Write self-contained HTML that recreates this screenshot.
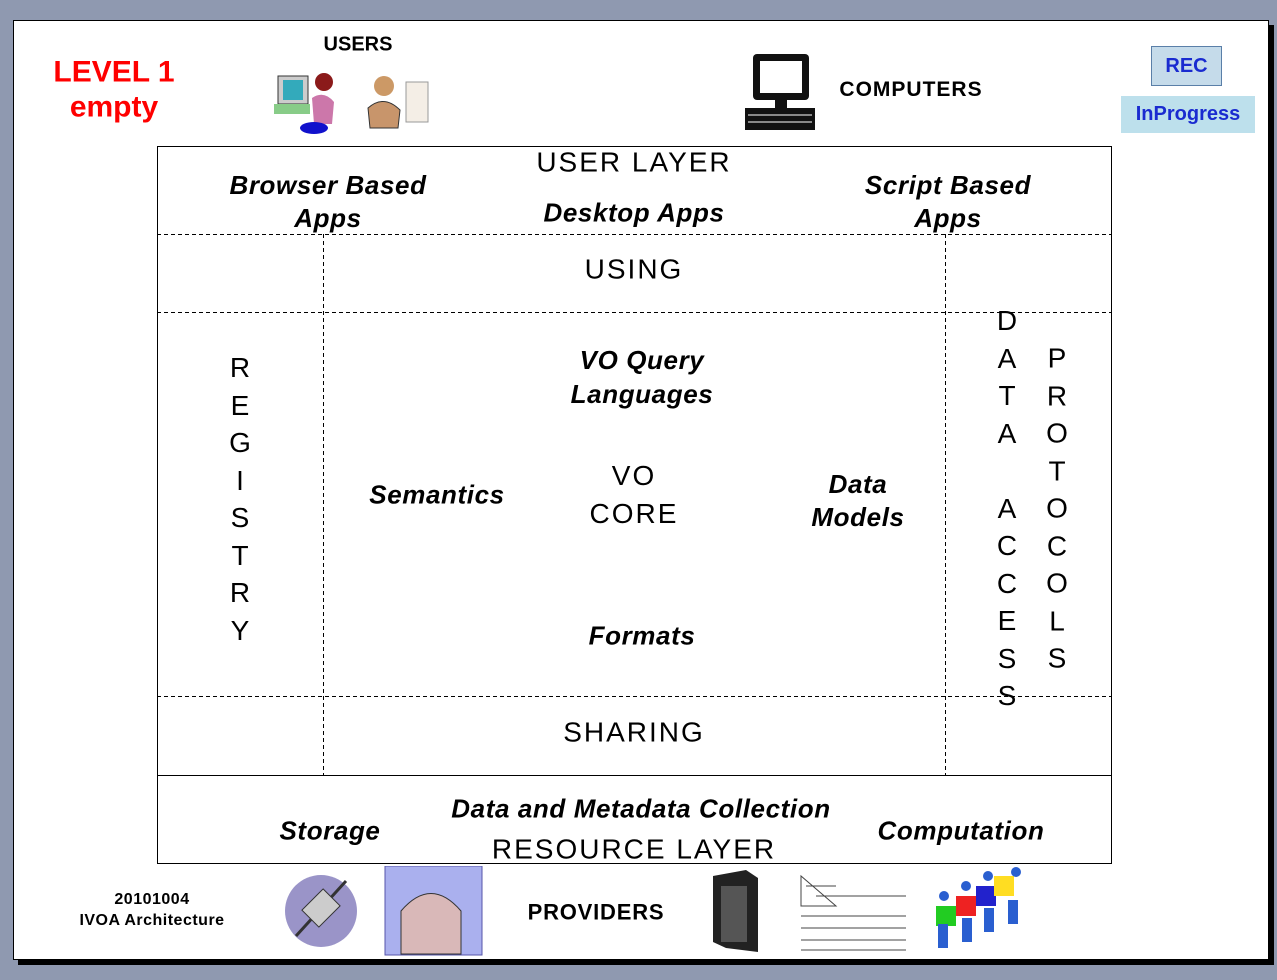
<!DOCTYPE html>
<html><head><meta charset="utf-8"><style>
body{margin:0;width:1277px;height:980px;background:#8f99b0;position:relative;overflow:hidden;font-family:"Liberation Sans",sans-serif}
.slide{position:absolute;left:13px;top:20px;width:1254px;height:938px;background:#fff;border:1px solid #000;box-shadow:5px 5px 0 #000}
.t{position:absolute;transform:translate(-50%,-50%);white-space:nowrap;text-align:center;line-height:1.25}
.bi{font-weight:bold;font-style:italic;font-size:26px;letter-spacing:0.6px;line-height:33px}
.n{font-size:28px;letter-spacing:2px}
.l{position:absolute}
</style></head><body>
<div class="slide"></div>
<div class="t" style="left:114px;top:90px;color:#f00;font-weight:bold;font-size:30px;line-height:1.15">LEVEL 1<br>empty</div>
<div class="t" style="left:358px;top:45px;font-weight:bold;font-size:20px">USERS</div>
<div class="t" style="left:911px;top:90px;font-weight:bold;font-size:21px;letter-spacing:1px">COMPUTERS</div>
<div class="l" style="left:1151px;top:46px;width:69px;height:38px;background:#c5dbea;border:1px solid #5a7fa8;color:#1a2bd0;font-weight:bold;font-size:20px;text-align:center;line-height:38px">REC</div>
<div class="l" style="left:1121px;top:96px;width:134px;height:37px;background:#bde0ec;color:#1a2bd0;font-weight:bold;font-size:20px;text-align:center;line-height:37px">InProgress</div>
<svg class="l" style="left:274px;top:68px" width="160" height="68">
<rect x="4" y="8" width="30" height="28" fill="#ccc" stroke="#333"/><rect x="9" y="12" width="20" height="20" fill="#3ab"/>
<rect x="0" y="36" width="36" height="10" fill="#8c8"/><circle cx="50" cy="14" r="9" fill="#8b1a1a"/>
<path d="M38 30 Q50 22 60 34 L58 56 L40 56 Z" fill="#c7a"/><ellipse cx="40" cy="60" rx="14" ry="6" fill="#11c"/>
<circle cx="110" cy="18" r="10" fill="#c96"/><path d="M94 40 Q110 26 126 42 L124 60 L96 60 Z" fill="#c8956b" stroke="#333"/>
<rect x="132" y="14" width="22" height="40" fill="#f4eee6" stroke="#999"/>
</svg>
<svg class="l" style="left:745px;top:52px" width="72" height="80">
<rect x="8" y="2" width="56" height="46" rx="4" fill="#111"/><rect x="15" y="9" width="42" height="32" fill="#fff"/>
<rect x="30" y="48" width="12" height="8" fill="#111"/><rect x="0" y="56" width="70" height="22" fill="#111"/>
<g stroke="#fff" stroke-width="1"><line x1="3" y1="63" x2="67" y2="63"/><line x1="3" y1="70" x2="67" y2="70"/></g>
</svg>
<svg class="l" style="left:0;top:0" width="1277" height="980">
<rect x="157.5" y="146.5" width="954" height="717" fill="none" stroke="#000" stroke-width="1"/>
<g stroke="#000" stroke-dasharray="4,3" stroke-width="1">
<line x1="157" y1="234.5" x2="1111" y2="234.5"/>
<line x1="157" y1="312.5" x2="1111" y2="312.5"/>
<line x1="157" y1="696.5" x2="1111" y2="696.5"/>
<line x1="323.5" y1="234" x2="323.5" y2="775"/>
<line x1="945.5" y1="234" x2="945.5" y2="775"/>
</g>
<line x1="157" y1="775.5" x2="1111" y2="775.5" stroke="#000"/>
</svg>
<div class="t n" style="left:634px;top:162px">USER LAYER</div>
<div class="t bi" style="left:328px;top:202px">Browser Based<br>Apps</div>
<div class="t bi" style="left:634px;top:213px">Desktop Apps</div>
<div class="t bi" style="left:948px;top:202px">Script Based<br>Apps</div>
<div class="t n" style="left:634px;top:269px">USING</div>
<div class="t bi" style="left:642px;top:377px;line-height:34px">VO Query<br>Languages</div>
<div class="t bi" style="left:437px;top:495px">Semantics</div>
<div class="t n" style="left:634px;top:495px;line-height:38px">VO<br>CORE</div>
<div class="t bi" style="left:858px;top:501px">Data<br>Models</div>
<div class="t bi" style="left:642px;top:636px">Formats</div>
<div class="t n" style="left:634px;top:732px">SHARING</div>
<div class="t bi" style="left:641px;top:809px">Data and Metadata Collection</div>
<div class="t bi" style="left:330px;top:831px">Storage</div>
<div class="t bi" style="left:961px;top:831px">Computation</div>
<div class="t n" style="left:634px;top:849px">RESOURCE LAYER</div>
<div class="t n" style="left:240px;top:499px;line-height:37.5px;letter-spacing:0">R<br>E<br>G<br>I<br>S<br>T<br>R<br>Y</div>
<div class="t n" style="left:1007px;top:508px;line-height:37.5px;letter-spacing:0">D<br>A<br>T<br>A<br>&nbsp;<br>A<br>C<br>C<br>E<br>S<br>S</div>
<div class="t n" style="left:1057px;top:508px;line-height:37.5px;letter-spacing:0">P<br>R<br>O<br>T<br>O<br>C<br>O<br>L<br>S</div>
<div class="t" style="left:152px;top:911px;font-weight:bold;font-size:16px;letter-spacing:0.5px;line-height:1.3">20101004<br>IVOA Architecture</div>
<div class="t" style="left:596px;top:912px;font-weight:bold;font-size:22px;letter-spacing:0.8px">PROVIDERS</div>
<svg class="l" style="left:276px;top:866px" width="780" height="92">
<ellipse cx="45" cy="45" rx="36" ry="36" fill="#9a94c8"/><path d="M20 70 L70 15" stroke="#333" stroke-width="3"/><rect x="30" y="30" width="30" height="24" fill="#ccc" stroke="#333" transform="rotate(-45 45 42)"/>
<rect x="109" y="0" width="97" height="89" fill="#aab0ee" stroke="#55a"/><path d="M125 88 L125 45 Q155 10 185 45 L185 88 Z" fill="#d9b8b8" stroke="#333"/>
<path d="M437 10 L470 4 L482 12 L482 86 L450 82 L437 76 Z" fill="#222"/><rect x="445" y="20" width="26" height="56" fill="#555"/>
<g stroke="#444" stroke-width="1"><line x1="530" y1="20" x2="560" y2="20"/><line x1="540" y1="30" x2="630" y2="30"/><line x1="525" y1="50" x2="630" y2="50"/><line x1="525" y1="62" x2="630" y2="62"/><line x1="525" y1="74" x2="630" y2="74"/><line x1="525" y1="84" x2="630" y2="84"/><path d="M525 10 L525 40 L560 40 Z" fill="none"/></g>
<rect x="660" y="40" width="20" height="20" fill="#2c2"/><rect x="680" y="30" width="20" height="20" fill="#e22"/><rect x="700" y="20" width="20" height="20" fill="#22c"/><rect x="718" y="10" width="20" height="20" fill="#fd2"/>
<g fill="#2a5fd0"><circle cx="668" cy="30" r="5"/><circle cx="690" cy="20" r="5"/><circle cx="712" cy="10" r="5"/><circle cx="740" cy="6" r="5"/><rect x="662" y="58" width="10" height="24"/><rect x="686" y="52" width="10" height="24"/><rect x="708" y="42" width="10" height="24"/><rect x="732" y="34" width="10" height="24"/></g>
</svg>
</body></html>
